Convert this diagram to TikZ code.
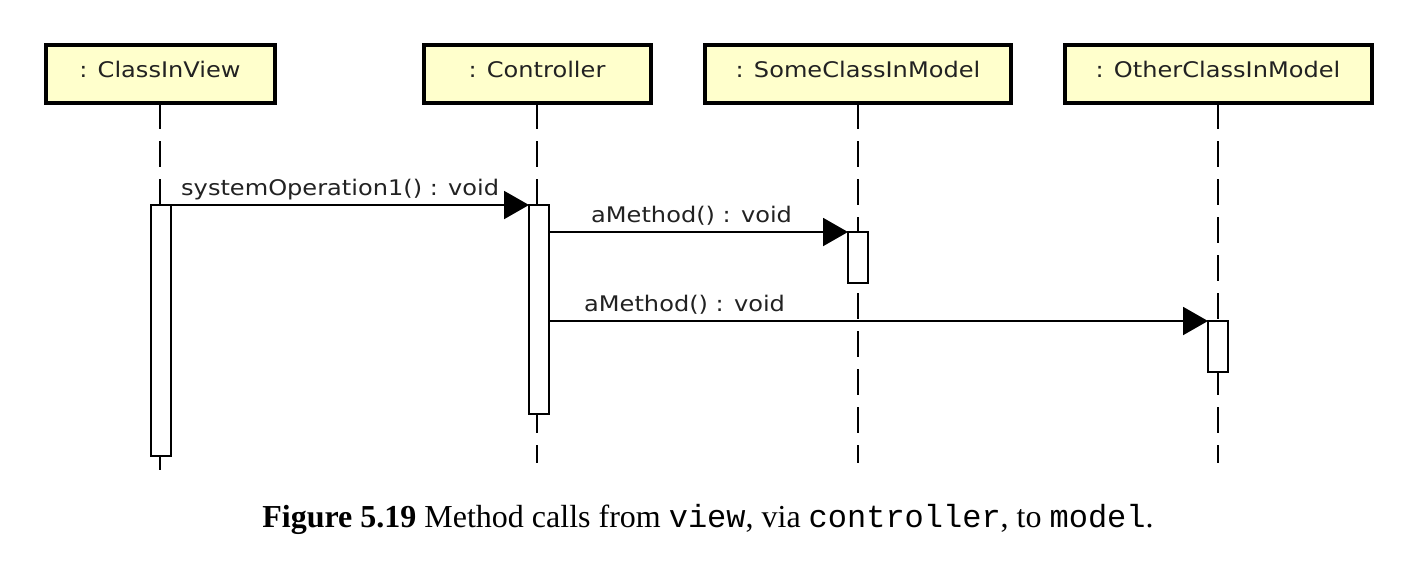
\documentclass[tikz,border=0pt]{standalone}
\usepackage{fontspec}
\setmainfont{Liberation Serif}
\setmonofont{Liberation Mono}
\newfontfamily\umlfont[FakeStretch=1.12]{DejaVu Sans}
\usetikzlibrary{arrows.meta}
\definecolor{umlyellow}{HTML}{FFFFCC}
\definecolor{umltext}{HTML}{222222}
\begin{document}
\begin{tikzpicture}[x=1pt,y=-1pt,
  obj/.style={draw, line width=4pt, fill=umlyellow, minimum width=#1, minimum height=58pt,
    inner sep=0pt, outer sep=0pt, text=umltext, font=\umlfont\fontsize{21.5}{24}\selectfont,
    text height=15pt, text depth=9pt},
  act/.style={draw, line width=2pt, fill=white, minimum width=20pt, inner sep=0pt, outer sep=0pt, anchor=north},
  lifeline/.style={line width=2pt, dash pattern=on 26pt off 12pt},
  msg/.style={line width=2pt, -{Triangle[length=25pt,width=28pt]}},
  lbl/.style={anchor=base west, inner sep=0pt, text=umltext, font=\umlfont\fontsize{21.5}{24}\selectfont}
]
\useasboundingbox (0,0) rectangle (1424,574);

% header boxes
\node[obj=229pt] (v) at (160,74) {: ClassInView};
\node[obj=227pt] (c) at (537,74) {: Controller};
\node[obj=306pt] (s) at (858,74) {: SomeClassInModel};
\node[obj=307pt] (o) at (1218,74) {: OtherClassInModel};

% lifeline ends
\coordinate (vend) at (160,470);
\coordinate (cend) at (537,463);
\coordinate (send) at (858,463);
\coordinate (oend) at (1218,463);

\draw[lifeline] (v.south) -- (vend);
\draw[lifeline] (c.south) -- (cend);
\draw[lifeline] (s.south) -- (send);
\draw[lifeline] (o.south) -- (oend);

% activations
\node[act, minimum height=251pt] (va) at (161,205) {};
\node[act, minimum height=209pt] (ca) at (539,205) {};
\node[act, minimum height=51pt] (sa) at (858,232) {};
\node[act, minimum height=51pt] (oa) at (1218,321) {};

% messages
\draw[msg] (va.north east) -- (ca.north west);
\draw[msg] (sa.north west -| ca.east) -- (sa.north west);
\draw[msg] (oa.north west -| ca.east) -- (oa.north west);

\node[lbl] (l1) at ([xshift=10pt,yshift=10pt]va.north east) {systemOperation1() : void};
\node[lbl] (l2) at ([xshift=42pt,yshift=10pt]sa.north west -| ca.east) {aMethod() : void};
\node[lbl] (l3) at ([xshift=35pt,yshift=10pt]oa.north west -| ca.east) {aMethod() : void};

% caption
\node[anchor=base, inner sep=0pt, font=\fontsize{32}{36}\selectfont] (cap) at (708,527)
  {\textbf{Figure 5.19} Method calls from \texttt{view}, via \texttt{controller}, to \texttt{model}.};
\end{tikzpicture}
\end{document}
